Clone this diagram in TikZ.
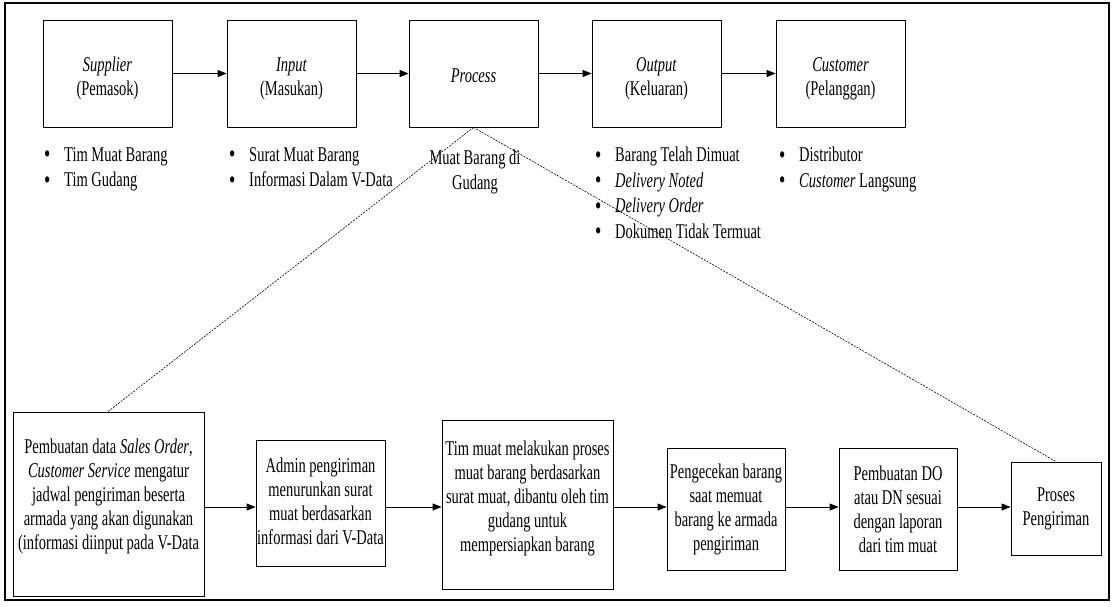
\documentclass[tikz,border=0pt]{standalone}
\usepackage{fontspec}
\setmainfont{Liberation Serif}[FakeStretch=0.69]
\usetikzlibrary{arrows.meta}
\newcommand\diafont{\fontsize{21}{24}\selectfont}
\newcommand\listfont{\fontsize{21}{25.5}\selectfont}
\newcommand\blt{\makebox[20pt][l]{\raisebox{-1.5pt}{\fontsize{26}{0}\selectfont\textbullet}}}
\begin{document}
\begin{tikzpicture}[x=1pt,y=-1pt,
  box/.style={draw, line width=0.8pt, inner sep=0pt},
  txt/.style={inner sep=0pt, align=center, font=\diafont},
  topbox/.style={box, minimum width=129, minimum height=107},
  blist/.style={anchor=north west, align=left, inner sep=0pt, font=\listfont},
  arr/.style={line width=0.8pt, -{Triangle[length=9pt,width=7pt]}},
  link/.style={line width=0.6pt, dash pattern=on 2pt off 1.2pt}]
\useasboundingbox (0,0) rectangle (1113,607);
\draw[line width=1.1pt] (5,3) rectangle (1109,600);
% top row
\node[topbox] (sup) at (107.5,73.5) {};
\node[topbox] (inp) at (291.5,73.5) {};
\node[topbox] (pro) at (473.5,73.5) {};
\node[topbox] (out) at (656.5,73.5) {};
\node[topbox] (cus) at (840.5,73.5) {};
\node[txt, yshift=-5pt] (supt) at (sup) {\textit{Supplier}\\(Pemasok)};
\node[txt, yshift=-5pt] (inpt) at (inp) {\textit{Input}\\(Masukan)};
\node[txt, yshift=-2pt] (prot) at (pro) {\textit{Process}};
\node[txt, yshift=-5pt] (outt) at (out) {\textit{Output}\\(Keluaran)};
\node[txt, yshift=-5pt] (cust) at (cus) {\textit{Customer}\\(Pelanggan)};
\draw[arr] (sup) -- (inp);
\draw[arr] (inp) -- (pro);
\draw[arr] (pro) -- (out);
\draw[arr] (out) -- (cus);
% lists
\node[blist] (l1) at (44,147) {\blt Tim Muat Barang\\\blt Tim Gudang};
\node[blist] (l2) at (229,147) {\blt Surat Muat Barang\\\blt Informasi Dalam V-Data};
\node[align=center, inner sep=0pt, font=\listfont] (l3) at (475,172) {Muat Barang di\\Gudang};
\node[blist] (l4) at (595,147) {\blt Barang Telah Dimuat\\\blt \textit{Delivery Noted}\\\blt \textit{Delivery Order}\\\blt Dokumen Tidak Termuat};
\node[blist] (l5) at (779,147) {\blt Distributor\\\blt \textit{Customer} Langsung};
% bottom row
\node[box, minimum width=191, minimum height=184] (b1) at (108.5,504) {};
\node[box, minimum width=129, minimum height=126] (b2) at (320.5,503) {};
\node[box, minimum width=171, minimum height=169] (b3) at (527.5,504.5) {};
\node[box, minimum width=118, minimum height=122] (b4) at (726,509) {};
\node[box, minimum width=118, minimum height=122] (b5) at (898,509) {};
\node[box, minimum width=90, minimum height=93] (b6) at (1056,508.5) {};
\node[txt, yshift=8pt] (b1t) at (b1) {Pembuatan data \textit{Sales Order},\\\textit{Customer Service} mengatur\\jadwal pengiriman beserta\\armada yang akan digunakan\\(informasi diinput pada V-Data};
\node[txt, yshift=2pt] (b2t) at (b2) {Admin pengiriman\\menurunkan surat\\muat berdasarkan\\informasi dari V-Data};
\node[txt, yshift=6pt] (b3t) at (b3) {Tim muat melakukan proses\\muat barang berdasarkan\\surat muat, dibantu oleh tim\\gudang untuk\\mempersiapkan barang};
\node[txt] (b4t) at (b4) {Pengecekan barang\\saat memuat\\barang ke armada\\pengiriman};
\node[txt] (b5t) at (b5) {Pembuatan DO\\atau DN sesuai\\dengan laporan\\dari tim muat};
\node[txt] (b6t) at (b6) {Proses\\Pengiriman};
\coordinate (ay) at (0,507);
\draw[arr] (b1.east |- ay) -- (b2.west |- ay);
\draw[arr] (b2.east |- ay) -- (b3.west |- ay);
\draw[arr] (b3.east |- ay) -- (b4.west |- ay);
\draw[arr] (b4.east |- ay) -- (b5.west |- ay);
\draw[arr] (b5.east |- ay) -- (b6.west |- ay);
% dashed links
\coordinate (t1) at (108,412);
\coordinate (t6) at (1056,462);
\draw[link] (pro.south) -- (b1.north -| t1);
\draw[link] (pro.south) -- (b6.north -| t6);
\end{tikzpicture}
\end{document}
